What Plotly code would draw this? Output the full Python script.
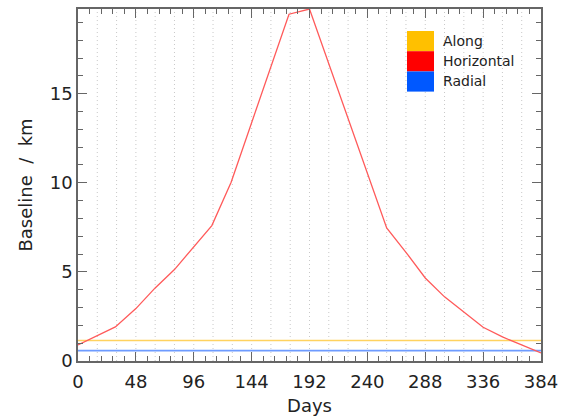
import plotly.graph_objects as go

# ---------------- data ----------------
horiz_days = [0, 31, 48, 64, 80, 96, 111, 127, 175, 192, 256, 272, 288, 304, 320, 336, 352, 368, 384]
horiz_km = [0.9, 1.91, 2.94, 4.1, 5.13, 6.38, 7.6, 10.03, 19.46, 19.75, 7.47, 6.1, 4.66, 3.6, 2.75, 1.89, 1.35, 0.92, 0.45]

along_days = [0, 384]
along_km = [1.15, 1.15]

radial_days = [0, 384]
radial_km = [0.58, 0.58]

x_ticks = [0, 48, 96, 144, 192, 240, 288, 336, 384]
y_ticks = [0, 5, 10, 15]
grid_days = list(range(16, 384, 16))

legend_names = ["Along", "Horizontal", "Radial"]
legend_colors = ["#FFC000", "#FF0000", "#0058FF"]

# ---------------- figure ----------------
W, H = 564, 416
L, R, T, B = 78, 23, 9, 55
pw, ph = W - L - R, H - T - B

def px(xp):
    return (xp - L) / pw

def py(yp):
    return (H - B - yp) / ph

fig = go.Figure()
fig.add_trace(go.Scatter(x=along_days, y=along_km, mode="lines",
                         line=dict(color="rgb(255,210,95)", width=1.6), showlegend=False))
fig.add_trace(go.Scatter(x=radial_days, y=radial_km, mode="lines",
                         line=dict(color="rgb(110,155,255)", width=1.6), showlegend=False))
fig.add_trace(go.Scatter(x=horiz_days, y=horiz_km, mode="lines",
                         line=dict(color="rgb(255,90,90)", width=1.3), showlegend=False))

shapes = []
for d in grid_days:
    shapes.append(dict(type="line", xref="x", yref="paper", x0=d, x1=d, y0=0, y1=1,
                       line=dict(color="#C8C8C8", width=1, dash="1px,3px"), layer="below"))

# custom legend (colour squares + labels)
sq_x0, sq_x1 = 407, 434
row_top = 31
row_h = 20.2
annotations = []
for i, (name, col) in enumerate(zip(legend_names, legend_colors)):
    y0 = row_top + i * row_h
    shapes.append(dict(type="rect", xref="paper", yref="paper",
                       x0=px(sq_x0), x1=px(sq_x1), y0=py(y0 + row_h), y1=py(y0),
                       fillcolor=col, line=dict(width=0), layer="above"))
    annotations.append(dict(xref="paper", yref="paper", x=px(441), y=py(y0 + row_h / 2),
                            text=name, showarrow=False, xanchor="left", yanchor="middle",
                            font=dict(size=14, color="#222222", family="DejaVu Sans")))

axis_col = "#666666"
fig.update_layout(
    width=W, height=H,
    margin=dict(l=L, r=R, t=T, b=B, autoexpand=False),
    paper_bgcolor="white", plot_bgcolor="white",
    font=dict(family="DejaVu Sans", size=18, color="#222222"),
    shapes=shapes, annotations=annotations,
    showlegend=False,
    xaxis=dict(range=[0, 384], tickvals=x_ticks, ticks="inside", ticklen=9,
               tickcolor=axis_col, tickwidth=1.2, automargin=False,
               ticklabelstandoff=4,
               showline=True, linecolor=axis_col, linewidth=1.5, mirror="allticks",
               showgrid=False, zeroline=False,
               minor=dict(dtick=9.6, tick0=0, ticks="inside", ticklen=5,
                          tickcolor=axis_col, tickwidth=1, showgrid=False),
               title=dict(text="Days", standoff=10, font=dict(size=18)),
               tickfont=dict(size=18)),
    yaxis=dict(range=[0, 19.75], tickvals=y_ticks, ticks="inside", ticklen=9,
               tickcolor=axis_col, tickwidth=1.2, automargin=False,
               showline=True, linecolor=axis_col, linewidth=1.5, mirror="allticks",
               showgrid=False, zeroline=False,
               minor=dict(dtick=1, tick0=0, ticks="inside", ticklen=5,
                          tickcolor=axis_col, tickwidth=1, showgrid=False),
               title=dict(text="Baseline  /  km", standoff=12, font=dict(size=18)),
               tickfont=dict(size=18)),
)

fig.write_html("out.html", config={"displayModeBar": False},
               post_script="document.body.style.margin='0';")
